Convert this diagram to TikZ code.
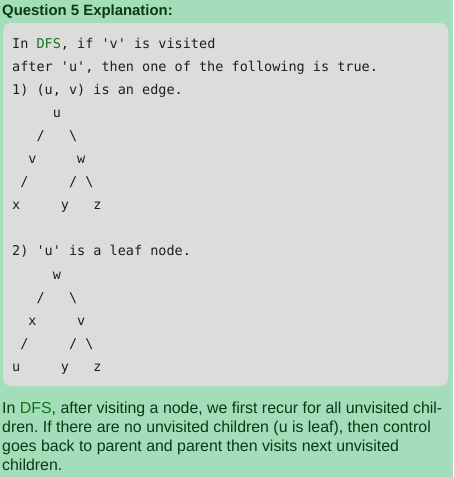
\documentclass[tikz,border=0pt]{standalone}
\usepackage{fontspec}
\setmainfont{Liberation Sans}
\setmonofont{DejaVu Sans Mono}
\definecolor{bggreen}{HTML}{A4DDB9}
\definecolor{boxgray}{HTML}{DCDCDC}
\definecolor{dfsgreen}{HTML}{16731A}
\definecolor{textgreen}{HTML}{0B3A12}
\definecolor{codeblack}{HTML}{1E1E1E}
\tikzset{
  codeline/.style={anchor=base west, inner sep=0pt, text=codeblack,
    font=\ttfamily\fontsize{13.5}{16}\selectfont},
  textline/.style={anchor=base west, inner sep=0pt, text=textgreen,
    font=\frenchspacing\fontsize{15.9}{19}\selectfont},
}
\newcommand{\dfs}{\textcolor{dfsgreen}{DFS}}

\begin{document}
\begin{tikzpicture}[x=1pt, y=-1pt]
\fill[bggreen] (0,0) rectangle (453,477);
\useasboundingbox (0,0) rectangle (453,477);

\node[anchor=base west, inner sep=0pt, text=textgreen, font=\bfseries\fontsize{14.9}{17}\selectfont] (title) at (2,15) {Question 5 Explanation:};

\fill[boxgray, rounded corners=8pt] (3,23) rectangle (448,386);

% the code block, one node per line
\foreach \k/\s in {0/{In \dfs, if 'v' is visited},
                   1/{after 'u', then one of the following is true.},
                   2/{1) (u, v) is an edge.},
                   3/{~~~~~u},
                   4/{~~~/~~~\textbackslash},
                   5/{~~v~~~~~w},
                   6/{~/~~~~~/~\textbackslash},
                   7/{x~~~~~y~~~z},
                   9/{2) 'u' is a leaf node.},
                   10/{~~~~~w},
                   11/{~~~/~~~\textbackslash},
                   12/{~~x~~~~~v},
                   13/{~/~~~~~/~\textbackslash},
                   14/{u~~~~~y~~~z}}
  \node[codeline] (code\k) at (12,48+23.1*\k) {\s};

\foreach \k/\s in {0/{In \dfs, after visiting a node, we first recur for all unvisited chil-},
                   1/{dren. If there are no unvisited children (u is leaf), then control},
                   2/{goes back to parent and parent then visits next unvisited},
                   3/{children.}}
  \node[textline] (para\k) at (2,413+19*\k) {\s};
\end{tikzpicture}
\end{document}
